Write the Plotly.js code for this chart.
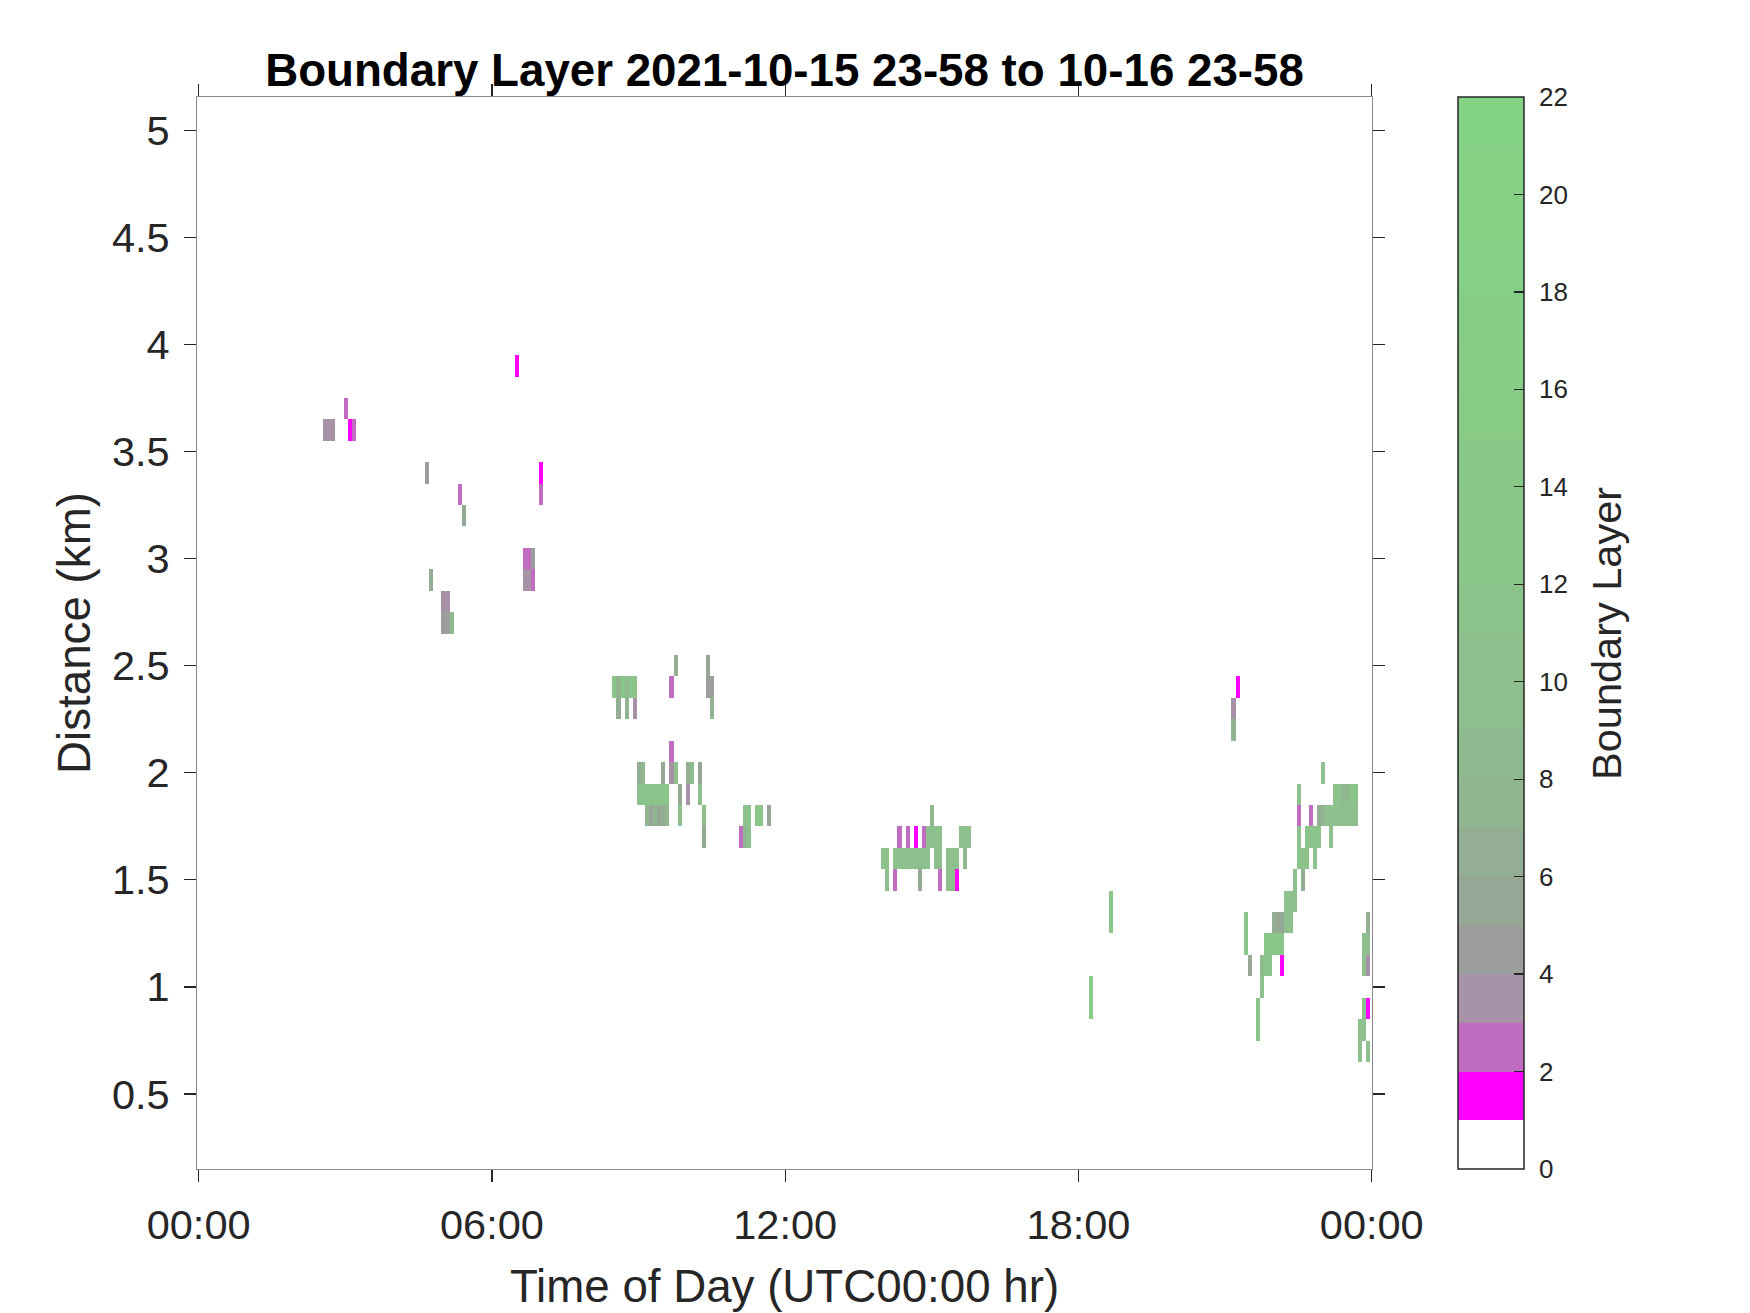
<!DOCTYPE html>
<html>
<head>
<meta charset="utf-8">
<script src="https://cdn.plot.ly/plotly-3.0.1.min.js"></script>
<style>
  html, body { margin: 0; padding: 0; background: #ffffff; }
  #chart { width: 1750px; height: 1313px; }
</style>
</head>
<body>
<div id="chart"></div>
<script>
// ---------------- DATA ----------------
// Each cell: start minute of its 5-minute bin (bins start at 23:58 of the previous day = -2),
// height of the 0.1 km range gate (centre, km) and the Boundary Layer value.
const cellStartMin = [
  153,158,163, 178, 183, 188, 278, 283, 298,298, 303,303, 308, 318, 323, 388,
  398,398, 403,403, 408,408, 418,418,
  508, 513,513, 518, 523,523, 528, 533,533,
  538,538, 543,543, 548,548, 553,553, 558,558, 563,563, 568,568,568, 573,573,
  578,578,578, 583,583, 588,588, 598,598, 603, 613,613, 618,618, 623,623, 628,628,
  663, 668,668, 673,673, 683, 688, 698,
  838, 843,843, 853,853, 858,858, 863, 868,868, 873, 878,878, 883,883, 888,888,
  893,893, 898,898, 903,903, 908,908,908, 918,918, 923,923, 928,928, 933, 938,938, 943,
  1093,1093, 1118,1118,
  1268,1268, 1273, 1283,1283, 1288, 1298,1298, 1303,1303, 1308,1308, 1313,1313,
  1318,1318, 1323,1323, 1328,1328,1328, 1333,1333, 1338,1338, 1343,1343,
  1348,1348,1348,1348, 1353,1353, 1358,1358, 1363,1363, 1368,1368, 1373,1373,
  1378,1378, 1383, 1388,1388, 1393,1393, 1398,1398, 1403,1403, 1408,1408,
  1413,1413, 1418,1418, 1423,1423, 1428,1428,1428,1428, 1433,1433,1433,1433,1433
];
const cellHeightKm = [
  3.6,3.6,3.6, 3.7, 3.6, 3.6, 3.4, 2.9, 2.8,2.7, 2.8,2.7, 2.7, 3.3, 3.2, 3.9,
  3.0,2.9, 3.0,2.9, 3.0,2.9, 3.4,3.3,
  2.4, 2.4,2.3, 2.4, 2.4,2.3, 2.4, 2.4,2.3,
  2.0,1.9, 2.0,1.9, 1.9,1.8, 1.9,1.8, 1.9,1.8, 1.9,1.8, 2.0,1.9,1.8, 1.9,1.8,
  2.4,2.1,2.0, 2.5,2.0, 1.9,1.8, 2.0,1.9, 2.0, 2.0,1.9, 1.8,1.7, 2.5,2.4, 2.4,2.3,
  1.7, 1.8,1.7, 1.8,1.7, 1.8, 1.8, 1.8,
  1.6, 1.6,1.5, 1.6,1.5, 1.7,1.6, 1.6, 1.7,1.6, 1.6, 1.7,1.6, 1.6,1.5, 1.7,1.6,
  1.7,1.6, 1.8,1.7, 1.7,1.6, 1.7,1.6,1.5, 1.6,1.5, 1.6,1.5, 1.6,1.5, 1.7, 1.7,1.6, 1.7,
  1.0,0.9, 1.4,1.3,
  2.3,2.2, 2.4, 1.3,1.2, 1.1, 0.9,0.8, 1.1,1.0, 1.2,1.1, 1.2,1.1,
  1.3,1.2, 1.3,1.2, 1.3,1.2,1.1, 1.4,1.3, 1.4,1.3, 1.4,1.5,
  1.9,1.8,1.7,1.6, 1.6,1.5, 1.7,1.6, 1.8,1.7, 1.7,1.6, 1.8,1.7,
  2.0,1.8, 1.8, 1.8,1.7, 1.9,1.8, 1.9,1.8, 1.9,1.8, 1.9,1.8,
  1.9,1.8, 1.9,1.8, 0.8,0.7, 1.2,1.1,0.9,0.8, 1.3,1.2,1.1,0.9,0.7
];
const cellValue = [
  3.5,3.5,3.5, 2.5, 1.5, 2.7, 4.5, 6.5, 3.5,4.5, 3.5,4.5, 8, 2.5, 5.5, 1.5,
  2.5,3.5, 2.5,3.5, 4.5,2.6, 1.5,2.6,
  12, 7,6, 12, 8,7, 12, 11,3.5,
  6,10, 7,12, 12,7, 11,5, 12,7, 12,5, 5,10,6, 12,7,
  2.5,2.5,3.5, 6,10, 5.5,10, 6,3.5, 9, 5,10, 10,5, 5,4.5, 4.5,7,
  2.5, 11,7, 11,10, 12, 12, 5,
  10, 10,10, 10,2.5, 2.5,10, 10, 2.5,10, 10, 1.5,9, 10,5, 2.5,10,
  10,10, 8,10, 10,9, 10,9,2.5, 10,10, 10,10, 10,1.5, 10, 10,8, 10,
  16,16, 13,13,
  3.5,7, 1.5, 12,12, 5, 12,12, 9,10, 12,11, 12,11,
  6,12, 5,12, 5,12,1.5, 10,10, 10,10, 10,10,
  10,2.5,10,11, 11,6, 11,11, 2.5,11, 11,10, 6,11,
  10,7, 10, 10,10, 11,10, 11,10, 8,10, 8,10,
  11,9, 11,10, 10,10, 10,10,10,10, 6,9,3.5,1.5,10
];

// Colour of each unit level of the colour bar (0-1, 1-2, ... 21-22)
const levelColors = [
  '#ffffff', '#ff00ff', '#c06cc0', '#a892a8', '#9c9e9c', '#96a796',
  '#93ae93', '#91b491', '#8fb98f', '#8ebd8e', '#8cc08c', '#8bc38b',
  '#8ac58a', '#89c789', '#88c988', '#87cb87', '#87cd87', '#86ce86',
  '#86cf86', '#85d085', '#85d185', '#84d384'
];
const colorbarTicks = [0, 2, 4, 6, 8, 10, 12, 14, 16, 18, 20, 22];
const xTickMin = [0, 360, 720, 1080, 1440];
const xTickText = ['00:00', '06:00', '12:00', '18:00', '00:00'];
const yTicks = [0.5, 1, 1.5, 2, 2.5, 3, 3.5, 4, 4.5, 5];

// ---------------- GRID (built from the cell arrays) ----------------
const BIN_MIN = 5, FIRST_START = -2, NCOL = 289;
const GATE_KM = 0.1, FIRST_GATE = 0.2, NROW = 50;
const z = [];
for (let r = 0; r < NROW; r++) { z.push(new Array(NCOL).fill(null)); }
for (let i = 0; i < cellStartMin.length; i++) {
  const c = Math.round((cellStartMin[i] - FIRST_START) / BIN_MIN);
  const r = Math.round((cellHeightKm[i] - FIRST_GATE) / GATE_KM);
  if (r >= 0 && r < NROW && c >= 0 && c < NCOL) z[r][c] = cellValue[i];
}
const zmax = levelColors.length;
const colorscale = [];
levelColors.forEach((col, i) => {
  colorscale.push([i / zmax, col]);
  colorscale.push([(i + 1) / zmax, col]);
});

const FONT = 'Liberation Sans, Arial, Helvetica, sans-serif';
const TXT = '#262626';

const trace = {
  type: 'heatmap',
  z: z,
  x0: FIRST_START + BIN_MIN / 2,
  dx: BIN_MIN,
  y0: FIRST_GATE,
  dy: GATE_KM,
  zmin: 0,
  zmax: zmax,
  zsmooth: false,
  colorscale: colorscale,
  hoverongaps: false,
  colorbar: {
    x: 1.0735, xref: 'paper', xanchor: 'left', xpad: 0,
    y: 0.5, yref: 'paper', yanchor: 'middle', ypad: 0,
    len: 1, lenmode: 'fraction',
    thickness: 66, thicknessmode: 'pixels',
    outlinecolor: '#262626', outlinewidth: 1.5,
    tickmode: 'array', tickvals: colorbarTicks,
    ticktext: colorbarTicks.map(v => '\u2004' + v),
    ticks: 'inside', ticklen: 10, tickwidth: 1.3, tickcolor: TXT,
    tickfont: { family: FONT, size: 26, color: TXT }
  }
};

const layout = {
  width: 1750, height: 1313,
  paper_bgcolor: '#ffffff', plot_bgcolor: '#ffffff',
  margin: { l: 197, r: 378, t: 97, b: 144 },
  font: { family: FONT, color: TXT },
  title: {
    text: 'Boundary Layer 2021-10-15 23-58 to 10-16 23-58',
    font: { family: FONT, size: 45.7, color: '#000000', weight: 'bold' },
    xref: 'paper', x: 0.5, xanchor: 'center',
    yref: 'container', y: 0.947, yanchor: 'middle'
  },
  xaxis: {
    range: [-2, 1440.3],
    tickmode: 'array', tickvals: xTickMin, ticktext: xTickText,
    ticks: 'outside', ticklen: 12, tickwidth: 1.3, tickcolor: TXT,
    ticklabelstandoff: 7,
    showline: true, linecolor: '#8a8a8a', linewidth: 1, mirror: 'ticks',
    showgrid: false, zeroline: false,
    tickfont: { family: FONT, size: 41.5, color: TXT },
    title: { text: 'Time of Day (UTC00:00 hr)', font: { family: FONT, size: 45.7, color: TXT }, standoff: 23 }
  },
  yaxis: {
    range: [0.15, 5.155],
    tickmode: 'array', tickvals: yTicks,
    ticks: 'outside', ticklen: 12, tickwidth: 1.3, tickcolor: TXT,
    ticklabelstandoff: 6,
    showline: true, linecolor: '#8a8a8a', linewidth: 1, mirror: 'ticks',
    showgrid: false, zeroline: false,
    tickfont: { family: FONT, size: 41.5, color: TXT },
    title: { text: 'Distance (km)', font: { family: FONT, size: 45.7, color: TXT }, standoff: 7 }
  },
  annotations: [{
    text: 'Boundary Layer', textangle: -90, showarrow: false,
    xref: 'paper', x: 1.1991, xanchor: 'center',
    yref: 'paper', y: 0.5, yanchor: 'middle',
    font: { family: FONT, size: 41.5, color: TXT }
  }]
};

Plotly.newPlot('chart', [trace], layout, { displayModeBar: false, staticPlot: true });
</script>
</body>
</html>
